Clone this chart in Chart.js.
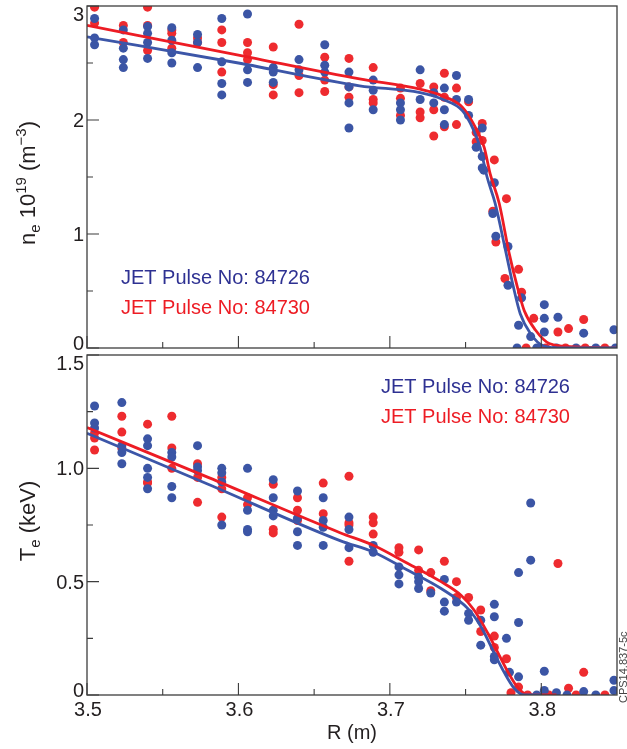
<!DOCTYPE html>
<html><head><meta charset="utf-8">
<script src="https://cdn.jsdelivr.net/npm/chart.js@4.4.1/dist/chart.umd.min.js"></script>
<style>
html,body{margin:0;padding:0;background:#fff;width:627px;height:749px;overflow:hidden}
canvas{position:absolute;left:0;top:0}
</style></head>
<body>
<canvas id="c1" width="627" height="749"></canvas>
<canvas id="c2" width="627" height="749"></canvas>
<script>
// ---------- data ----------
const seriesLabels = ['JET Pulse No: 84726', 'JET Pulse No: 84730'];
const xTickValues = [3.5, 3.6, 3.7, 3.8];
const xTickLabels = ['3.5', '3.6', '3.7', '3.8'];
const xMinorTicks = [3.55, 3.65, 3.75];
const neTickValues = [0, 1, 2, 3];
const neTickLabels = ['0', '1', '2', '3'];
const neMinorTicks = [0.5, 1.5, 2.5];
const teTickValues = [0, 0.5, 1.0, 1.5];
const teTickLabels = ['0', '0.5', '1.0', '1.5'];
const teMinorTicks = [0.25, 0.75, 1.25];

// density, pulse 84726 (blue)
const neBlueR = [3.505,3.505,3.505, 3.524,3.524,3.524,3.524, 3.540,3.540,3.540,3.540, 3.556,3.556,3.556,3.556,
  3.573,3.573,3.573, 3.589,3.589,3.589,3.589, 3.606,3.606,3.606, 3.623,3.623,3.623, 3.640,3.640,
  3.657,3.657,3.657, 3.673,3.673,3.673,3.673, 3.689,3.689,3.689, 3.707,3.707,3.707, 3.720,3.720,
  3.729,3.729, 3.736,3.736,3.736, 3.744,3.744, 3.752,3.752, 3.757, 3.761,3.761,3.761, 3.762, 3.769,
  3.768, 3.770, 3.778,3.778, 3.787, 3.785, 3.802,3.802,3.802, 3.811, 3.793, 3.828, 3.848,
  3.784,3.797,3.810,3.823,3.836,3.849];
const neBlueV = [2.89,2.72,2.66, 2.79,2.63,2.53,2.46, 2.82,2.76,2.68,2.54, 2.81,2.70,2.59,2.50,
  2.75,2.68,2.46, 2.89,2.51,2.32,2.22, 2.93,2.44,2.33, 2.46,2.42,2.33, 2.53,2.44,
  2.66,2.48,2.42, 2.42,2.29,2.15,1.93, 2.35,2.26,2.09, 2.15,2.09,2.00, 2.44,2.18,
  2.24,2.15, 2.28,2.09,1.96, 2.39,2.18, 2.18,2.04, 1.76, 1.93,1.68,1.58, 1.56, 1.45,
  1.18, 0.98, 0.89,0.55, 0.44, 0.20, 0.38,0.26,0.14, 0.27, 0.10, 0.13, 0.16,
  0,0,0,0,0,0];
// density, pulse 84730 (red)
const neRedR = [3.505,3.505, 3.524,3.524, 3.540,3.540,3.540, 3.556,3.556,3.556, 3.573,3.573,
  3.589,3.589,3.589, 3.606,3.606,3.606, 3.623,3.623,3.623, 3.640,3.640,3.640, 3.657,3.657,3.657,
  3.673,3.673,3.673, 3.689,3.689,3.689, 3.707,3.707,3.707, 3.720,3.720,3.720, 3.729,3.729,3.729,
  3.736,3.736,3.736, 3.744,3.744, 3.752, 3.757,3.757, 3.761,3.761, 3.769, 3.777, 3.768, 3.770,
  3.785, 3.776, 3.787, 3.795, 3.811, 3.818, 3.828,
  3.790,3.803,3.816,3.829,3.842];
const neRedV = [2.99,2.85, 2.83,2.68, 2.99,2.83,2.61, 2.79,2.76,2.63, 2.72,2.68,
  2.79,2.68,2.42, 2.68,2.59,2.53, 2.64,2.31,2.22, 2.84,2.39,2.24, 2.55,2.35,2.25,
  2.54,2.29,2.20, 2.46,2.18,2.15, 2.28,2.19,2.04, 2.32,2.07,2.02, 2.29,2.09,1.86,
  2.41,2.20,1.94, 2.28,1.96, 2.16, 1.89,1.81, 1.97,1.82, 1.65, 1.31, 1.20, 0.93,
  0.69, 0.61, 0.49, 0.26, 0.14, 0.17, 0.25,
  0,0,0,0,0];
// density fits
const neBlueFitR = [3.50,3.60,3.68,3.72,3.735,3.748,3.755,3.7596,3.7642,3.7695,3.7768,3.7815,3.7861,3.7927,3.8013,3.815,3.85];
const neBlueFitV = [2.73,2.50,2.30,2.24,2.18,2.08,1.92,1.76,1.50,1.27,0.83,0.54,0.30,0.13,0.02,0,0];
const neRedFitR = [3.50,3.60,3.68,3.72,3.735,3.748,3.7563,3.7623,3.7662,3.7722,3.7788,3.7841,3.7887,3.796,3.8053,3.8225,3.85];
const neRedFitV = [2.83,2.57,2.36,2.27,2.21,2.11,1.94,1.76,1.53,1.27,0.83,0.54,0.33,0.16,0.04,0.01,0];

// temperature, pulse 84726 (blue)
const teBlueR = [3.505,3.505,3.505, 3.523,3.523,3.523,3.523, 3.540,3.540,3.540,3.540,3.540, 3.556,3.556,3.556,3.556,
  3.573,3.573,3.573, 3.589,3.589,3.589,3.589, 3.606,3.606,3.606,3.606, 3.623,3.623,3.623,3.623,
  3.639,3.639,3.639,3.639, 3.656,3.656,3.656,3.656, 3.673,3.673,3.673, 3.689,3.689, 3.706,3.706,3.706,
  3.719,3.719,3.719, 3.727, 3.736,3.736,3.736, 3.744, 3.752,3.752, 3.760,3.760, 3.769,3.769,3.769,3.769,
  3.777, 3.779, 3.785,3.785,3.785, 3.793,3.793, 3.802,3.802, 3.810, 3.828, 3.848,3.848,
  3.797,3.817,3.836];
const teBlueV = [1.275,1.20,1.178, 1.29,1.10,1.07,1.02, 1.13,1.10,1.00,0.96,0.91, 1.07,1.05,0.92,0.87,
  1.10,1.006,0.99, 1.00,0.98,0.94,0.75, 1.00,0.815,0.73,0.72, 0.95,0.87,0.815,0.79,
  0.90,0.78,0.72,0.66, 0.87,0.77,0.74,0.66, 0.785,0.73,0.65, 0.66,0.63, 0.565,0.53,0.49,
  0.52,0.50,0.47, 0.45, 0.51,0.41,0.37, 0.41, 0.36,0.33, 0.33,0.22, 0.40,0.345,0.17,0.155,
  0.25, 0.10, 0.54,0.32,0.08, 0.847,0.595, 0.105,0.02, 0.01, 0.015, 0.065,0.02,
  0,0,0];
// temperature, pulse 84730 (red)
const teRedR = [3.505,3.505,3.505, 3.523,3.523,3.523, 3.540,3.540,3.540, 3.556,3.556,3.556, 3.573,3.573,3.573,
  3.589,3.589,3.589, 3.606,3.606, 3.623,3.623,3.623, 3.639,3.639,3.639, 3.656,3.656,
  3.673,3.673,3.673,3.673, 3.689,3.689,3.689, 3.706,3.706, 3.719,3.719, 3.727,3.727, 3.736,
  3.744,3.744, 3.752, 3.760,3.760, 3.769,3.769, 3.777, 3.785, 3.780, 3.811, 3.818, 3.828,
  3.791,3.805,3.823,3.842];
const teRedV = [1.156,1.134,1.081, 1.23,1.16,1.09, 1.195,0.94,0.935, 1.23,1.09,1.00, 1.02,0.96,0.85,
  0.96,0.91,0.785, 0.87,0.84, 0.93,0.73,0.715, 0.87,0.815,0.77, 0.935,0.80,
  0.965,0.75,0.76,0.59, 0.785,0.71,0.76, 0.65,0.63, 0.64,0.55, 0.54,0.46, 0.59,
  0.50,0.43, 0.43, 0.375,0.28, 0.26,0.21, 0.16, 0.035, 0.01, 0.58, 0.03, 0.10,
  0,0,0,0];
// temperature fits
const teBlueFitR = [3.50,3.58,3.6675,3.6894,3.7119,3.7338,3.7517,3.7603,3.7689,3.7755,3.7821,3.7887,3.80];
const teBlueFitV = [1.155,0.93,0.68,0.63,0.55,0.47,0.38,0.30,0.185,0.10,0.03,0,0];
const teRedFitR = [3.50,3.58,3.6675,3.6894,3.7119,3.7338,3.747,3.7556,3.7649,3.7715,3.7781,3.7848,3.7914,3.81];
const teRedFitV = [1.18,0.96,0.715,0.66,0.58,0.50,0.44,0.375,0.27,0.185,0.10,0.03,0,0];

// ---------- styling ----------
const FONT = '"Liberation Sans", Arial, Helvetica, sans-serif';
const BLUE_PT = '#3b55a5';
const RED_PT = '#ee2b2f';
const BLUE_LINE = '#3c56a8';
const RED_LINE = '#ed1c24';
const BLUE_TXT = '#2e3192';
const RED_TXT = '#ed1c24';
const INK = '#231f20';

function pts(R, V) { return R.map((r, i) => ({ x: r, y: V[i] })); }

function pointSet(R, V, color) {
  return { type: 'scatter', data: pts(R, V), backgroundColor: color, borderWidth: 0,
    pointRadius: 4.5, pointHoverRadius: 4.5, order: 2, clip: 0 };
}
function fitSet(R, V, color) {
  return { type: 'line', data: pts(R, V), borderColor: color, borderWidth: 2.8, pointRadius: 0,
    cubicInterpolationMode: 'monotone', fill: false, order: 1, clip: 0 };
}

function richVertical(ctx, segs, baseX, cy) {
  ctx.save();
  ctx.translate(baseX, cy);
  ctx.rotate(-Math.PI / 2);
  ctx.textBaseline = 'alphabetic';
  ctx.textAlign = 'left';
  let total = 0;
  segs.forEach(s => { ctx.font = s.size + 'px ' + FONT; s.w = ctx.measureText(s.t).width; total += s.w; });
  let x = -total / 2;
  segs.forEach(s => { ctx.font = s.size + 'px ' + FONT; ctx.fillText(s.t, x, s.dy || 0); x += s.w; });
  ctx.restore();
}

function axesPlugin(opts) {
  return {
    id: 'frameAxes' + opts.key,
    afterDraw(chart) {
      const ctx = chart.ctx, a = chart.chartArea;
      const xs = chart.scales.x, ys = chart.scales.y;
      ctx.save();
      // frame
      ctx.strokeStyle = '#3d3d3d';
      ctx.lineWidth = 1.3;
      ctx.strokeRect(a.left, a.top, a.right - a.left, a.bottom - a.top);
      // inward ticks
      ctx.lineWidth = 1.1;
      ctx.beginPath();
      xTickValues.forEach(v => { const p = xs.getPixelForValue(v); ctx.moveTo(p, a.bottom); ctx.lineTo(p, a.bottom - 12); });
      xMinorTicks.forEach(v => { const p = xs.getPixelForValue(v); ctx.moveTo(p, a.bottom); ctx.lineTo(p, a.bottom - 6); });
      opts.yTicks.forEach(v => { const p = ys.getPixelForValue(v); ctx.moveTo(a.left, p); ctx.lineTo(a.left + 12, p); });
      opts.yMinor.forEach(v => { const p = ys.getPixelForValue(v); ctx.moveTo(a.left, p); ctx.lineTo(a.left + 6, p); });
      ctx.stroke();
      // y tick labels
      ctx.fillStyle = INK;
      ctx.font = '20px ' + FONT;
      ctx.textAlign = 'right';
      ctx.textBaseline = 'alphabetic';
      const n = opts.yTicks.length;
      opts.yTicks.forEach((v, i) => {
        const p = ys.getPixelForValue(v);
        let base = p + 7;
        if (i === n - 1) base = p + 14.5;
        if (i === 0) base = p + 1.5;
        ctx.fillText(opts.yLabels[i], a.left - 3, base);
      });
      // x tick labels + title (bottom panel only)
      if (opts.showX) {
        ctx.textAlign = 'center';
        xTickValues.forEach((v, i) => { ctx.fillText(xTickLabels[i], xs.getPixelForValue(v) + 1, a.bottom + 20.5); });
        ctx.fillText('R (m)', (a.left + a.right) / 2, a.bottom + 44);
        // figure id
        ctx.save();
        ctx.font = '11px ' + FONT;
        ctx.fillStyle = '#444';
        ctx.translate(627, a.bottom + 8);
        ctx.rotate(-Math.PI / 2);
        ctx.textAlign = 'left';
        ctx.fillText('CPS14.837-5c', 0, 0);
        ctx.restore();
      }
      // y title
      ctx.fillStyle = INK;
      richVertical(ctx, opts.yTitle, 35, (a.top + a.bottom) / 2 + opts.titleShift);
      // series labels
      ctx.textAlign = 'left';
      ctx.font = '20px ' + FONT;
      ctx.fillStyle = BLUE_TXT;
      ctx.fillText(seriesLabels[0], opts.legX, opts.legY);
      ctx.fillStyle = RED_TXT;
      ctx.fillText(seriesLabels[1], opts.legX, opts.legY + 30);
      ctx.restore();
    }
  };
}

function makeChart(id, datasets, yMax, padding, plugin) {
  return new Chart(document.getElementById(id), {
    type: 'scatter',
    data: { datasets },
    options: {
      responsive: false, animation: false, devicePixelRatio: 1,
      layout: { padding },
      plugins: { legend: { display: false }, tooltip: { enabled: false } },
      events: [],
      scales: {
        x: { type: 'linear', min: 3.5, max: 3.85, display: false },
        y: { type: 'linear', min: 0, max: yMax, display: false }
      }
    },
    plugins: [plugin]
  });
}

makeChart('c1', [
  fitSet(neBlueFitR, neBlueFitV, BLUE_LINE),
  fitSet(neRedFitR, neRedFitV, RED_LINE),
  pointSet(neBlueR, neBlueV, BLUE_PT),
  pointSet(neRedR, neRedV, RED_PT)
], 3, { left: 87, top: 6, right: 10, bottom: 401 }, axesPlugin({
  key: 'ne', yTicks: neTickValues, yLabels: neTickLabels, yMinor: neMinorTicks, showX: false,
  titleShift: 6, legX: 121, legY: 284,
  yTitle: [
    { t: 'n', size: 22 }, { t: 'e', size: 15, dy: 5 }, { t: ' 10', size: 22 }, { t: '19', size: 15, dy: -9 },
    { t: ' (m', size: 22 }, { t: '\u22123', size: 15, dy: -9 }, { t: ')', size: 22 }
  ]
}));

makeChart('c2', [
  fitSet(teBlueFitR, teBlueFitV, BLUE_LINE),
  fitSet(teRedFitR, teRedFitV, RED_LINE),
  pointSet(teBlueR, teBlueV, BLUE_PT),
  pointSet(teRedR, teRedV, RED_PT)
], 1.5, { left: 87, top: 355, right: 10, bottom: 54 }, axesPlugin({
  key: 'te', yTicks: teTickValues, yLabels: teTickLabels, yMinor: teMinorTicks, showX: true,
  titleShift: -4, legX: 381, legY: 393,
  yTitle: [
    { t: 'T', size: 22 }, { t: 'e', size: 15, dy: 5 }, { t: ' (keV)', size: 22 }
  ]
}));
</script>
</body></html>
